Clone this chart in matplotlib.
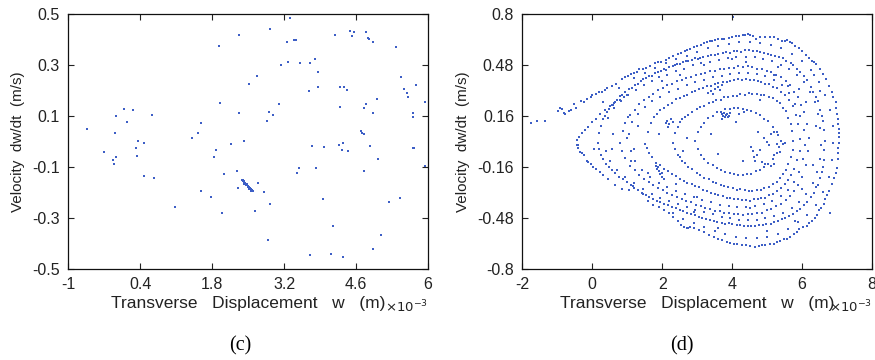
import numpy as np
import matplotlib
matplotlib.use("Agg")
import matplotlib.pyplot as plt

plt.rcParams["font.family"] = ["Liberation Sans", "DejaVu Sans"]

# panel (c): sampled states, w in units of 1e-3 m, dw/dt in m/s
c_points = [
    (-0.64, 0.048), (-0.31, -0.043), (-0.13, -0.074), (-0.11, -0.087), (-0.09, 0.033),
    (-0.07, 0.100), (-0.07, -0.059), (0.09, 0.129), (0.15, 0.077), (0.27, 0.125),
    (0.31, -0.027), (0.33, -0.056), (0.36, 0.001), (0.47, -0.007), (0.48, -0.137),
    (0.63, 0.102), (0.66, -0.145), (1.07, -0.258), (1.41, 0.014), (1.52, 0.033),
    (1.59, 0.074), (1.59, -0.193), (1.77, -0.217), (1.84, -0.059), (1.88, -0.033),
    (1.93, 0.375), (1.96, 0.151), (2.00, -0.282), (2.03, -0.128), (2.17, -0.010),
    (2.29, -0.117), (2.31, -0.184), (2.32, 0.418), (2.32, 0.110), (2.43, 0.003),
    (2.51, 0.227), (2.63, -0.274), (2.68, 0.258), (2.69, -0.164), (2.81, -0.200),
    (2.87, 0.081), (2.89, -0.385), (2.91, 0.116), (2.92, -0.247), (2.93, 0.441),
    (2.98, 0.103), (3.11, 0.149), (3.14, 0.302), (3.25, 0.390), (3.28, 0.313),
    (3.32, 0.483), (3.39, 0.399), (3.43, 0.399), (3.45, -0.124), (3.49, -0.103),
    (3.51, 0.309), (3.69, 0.198), (3.71, 0.307), (3.71, -0.446), (3.75, -0.016),
    (3.80, 0.325), (3.82, -0.106), (3.86, 0.272), (3.87, 0.214), (3.95, -0.227),
    (3.98, -0.023), (4.16, -0.333), (4.11, -0.440), (4.20, 0.419), (4.27, -0.012),
    (4.28, 0.137), (4.28, 0.214), (4.32, -0.034), (4.35, -0.007), (4.35, -0.454),
    (4.37, 0.215), (4.43, 0.201), (4.44, -0.037), (4.48, 0.435), (4.52, 0.414),
    (4.57, 0.430), (4.70, 0.040), (4.71, 0.033), (4.76, 0.030), (4.76, -0.114),
    (4.76, 0.133), (4.80, 0.146), (4.80, 0.428), (4.83, 0.406), (4.85, 0.402),
    (4.88, -0.017), (4.93, 0.390), (4.94, 0.111), (4.94, -0.420), (5.00, 0.167),
    (5.02, -0.068), (5.09, -0.366), (5.24, -0.236), (5.37, 0.371), (5.46, -0.221),
    (5.47, 0.253), (5.53, 0.204), (5.59, 0.191), (5.62, 0.176), (5.71, -0.027),
    (5.73, -0.027), (5.71, 0.112), (5.72, 0.095), (5.76, 0.223), (5.94, 0.155),
    (5.94, -0.098),
]
c_cluster = [
    (2.39, -0.150), (2.40, -0.153), (2.41, -0.151), (2.42, -0.157), (2.43, -0.158),
    (2.44, -0.161), (2.45, -0.163), (2.46, -0.167), (2.47, -0.166), (2.48, -0.171),
    (2.49, -0.173), (2.50, -0.176), (2.51, -0.178), (2.52, -0.181), (2.53, -0.183),
    (2.54, -0.186), (2.55, -0.188), (2.56, -0.190), (2.57, -0.192), (2.58, -0.194),
    (2.60, -0.196), (2.40, -0.157), (2.43, -0.165), (2.46, -0.172), (2.49, -0.180),
    (2.52, -0.186), (2.55, -0.193),
]
c_xticks = [-1, 0.4, 1.8, 3.2, 4.6, 6]
c_xlabels = ["-1", "0.4", "1.8", "3.2", "4.6", "6"]
c_yticks = [-0.5, -0.3, -0.1, 0.1, 0.3, 0.5]
c_ylabels = ["-0.5", "-0.3", "-0.1", "0.1", "0.3", "0.5"]

# panel (d): long run, several nested loops
d_tail = [
    (-1.74, 0.115), (-1.58, 0.130), (-1.36, 0.128), (-0.99, 0.194), (-0.93, 0.212),
    (-0.87, 0.205), (-0.80, 0.181), (-0.77, 0.170), (-0.68, 0.194), (-0.60, 0.200),
    (-0.51, 0.236), (-0.47, 0.212), (-0.31, 0.252), (-0.25, 0.247), (-0.16, 0.268),
    (-0.05, 0.281), (0.00, 0.294), (0.10, 0.301), (0.18, 0.309), (0.29, 0.312),
    (0.37, 0.324), (0.43, 0.333), (0.55, 0.346), (0.68, 0.362), (0.75, 0.338),
    (0.85, 0.391), (0.93, 0.402),
]
d_loop1 = [
    (1.02, 0.412), (1.10, 0.421), (1.19, 0.433), (1.28, 0.436), (1.35, 0.452),
    (1.44, 0.458), (1.53, 0.462), (1.64, 0.476), (1.80, 0.490), (1.89, 0.497),
    (1.97, 0.502), (2.10, 0.514), (2.19, 0.521), (2.31, 0.536), (2.45, 0.548),
    (2.54, 0.556), (2.64, 0.566), (2.72, 0.572), (2.80, 0.583), (2.91, 0.590),
    (3.00, 0.601), (3.10, 0.604), (3.21, 0.616), (3.28, 0.623), (3.36, 0.631),
    (3.43, 0.633), (3.52, 0.638), (3.61, 0.644), (3.70, 0.646), (3.78, 0.644),
    (3.90, 0.650), (4.01, 0.656), (4.10, 0.660), (4.21, 0.664), (4.31, 0.671),
    (4.38, 0.668), (4.45, 0.676), (4.52, 0.671), (4.60, 0.664), (4.67, 0.644),
    (4.80, 0.659), (4.95, 0.654), (5.09, 0.655), (5.19, 0.653), (5.30, 0.645),
    (5.43, 0.633), (5.50, 0.628), (5.58, 0.634), (5.65, 0.624), (5.72, 0.617),
    (5.80, 0.601), (5.90, 0.584), (6.00, 0.566), (6.10, 0.544), (6.19, 0.521),
    (6.29, 0.506), (6.34, 0.498), (6.41, 0.487), (6.50, 0.454), (6.60, 0.421),
    (6.68, 0.391), (6.77, 0.350), (6.85, 0.312), (6.90, 0.281), (6.96, 0.247),
    (6.98, 0.212), (7.01, 0.174), (7.03, 0.141), (7.04, 0.111), (7.06, 0.080),
    (7.05, 0.052), (7.06, 0.027), (7.05, -0.010), (7.04, -0.041), (7.04, -0.072),
    (7.03, -0.110), (7.01, -0.168), (6.96, -0.201), (6.91, -0.231), (6.86, -0.268),
    (6.77, -0.311), (6.72, -0.338), (6.67, -0.362), (6.62, -0.392), (6.55, -0.418),
    (6.48, -0.432), (6.43, -0.462), (6.36, -0.478), (6.29, -0.502), (6.20, -0.514),
    (6.14, -0.531), (6.02, -0.538), (5.91, -0.551), (5.85, -0.566), (5.76, -0.582),
    (5.66, -0.598), (5.57, -0.611), (5.48, -0.614), (5.38, -0.622), (5.28, -0.632),
    (5.19, -0.641), (5.08, -0.644), (4.95, -0.651), (4.85, -0.648), (4.76, -0.656),
    (4.65, -0.660), (4.52, -0.654), (4.40, -0.651), (4.28, -0.648), (4.15, -0.644),
    (4.05, -0.641), (3.95, -0.636), (3.85, -0.630), (3.72, -0.621), (3.60, -0.611),
    (3.48, -0.602), (3.35, -0.588), (3.20, -0.571), (3.05, -0.556), (2.92, -0.546),
    (2.80, -0.538), (2.75, -0.546), (2.70, -0.541), (2.62, -0.534), (2.55, -0.527),
    (2.45, -0.502), (2.32, -0.472), (2.20, -0.452), (2.05, -0.431), (1.90, -0.412),
    (1.74, -0.398), (1.60, -0.372), (1.45, -0.331), (1.30, -0.302), (1.17, -0.281),
    (1.04, -0.307), (0.85, -0.297), (0.65, -0.276), (0.46, -0.234), (0.30, -0.208),
    (0.22, -0.190), (0.10, -0.171), (0.03, -0.160), (-0.05, -0.141), (-0.11, -0.130),
    (-0.15, -0.120), (-0.25, -0.088), (-0.30, -0.075), (-0.35, -0.067), (-0.40, -0.025),
    (-0.42, -0.041), (-0.45, -0.020), (-0.43, 0.010), (-0.38, 0.031), (-0.30, 0.052),
    (-0.22, 0.071), (-0.12, 0.093), (-0.02, 0.121), (0.10, 0.142), (0.22, 0.171),
    (0.35, 0.198), (0.50, 0.221), (0.62, 0.243), (0.79, 0.262), (0.90, 0.281),
    (0.98, 0.292),
]
d_loop1b = [
    (1.20, 0.400), (1.50, 0.432), (1.80, 0.462), (2.10, 0.490), (2.40, 0.515),
    (2.70, 0.538), (3.00, 0.562), (3.30, 0.588), (3.60, 0.602), (3.90, 0.612),
    (4.20, 0.622), (4.50, 0.625), (4.80, 0.618), (5.10, 0.605), (5.40, 0.584),
    (5.70, 0.552), (6.00, 0.505), (6.25, 0.448), (6.48, 0.372), (6.66, 0.292),
    (6.80, 0.198), (6.88, 0.098), (6.90, -0.008), (6.86, -0.118), (6.76, -0.222),
    (6.60, -0.318), (6.40, -0.398), (6.15, -0.462), (5.88, -0.508), (5.60, -0.548),
    (5.30, -0.578), (5.00, -0.598), (4.70, -0.606), (4.40, -0.604), (4.10, -0.598),
    (3.80, -0.582), (3.50, -0.562), (3.20, -0.538), (2.90, -0.512), (2.60, -0.488),
    (2.30, -0.452),
]
d_loop2 = [
    (0.15, -0.012), (0.20, 0.052), (0.25, 0.098), (0.31, 0.142), (0.36, 0.158),
    (0.42, 0.183), (0.48, 0.201), (0.55, 0.226), (0.60, 0.229), (0.64, 0.247),
    (0.72, 0.262), (0.80, 0.284), (0.86, 0.292), (0.95, 0.308), (1.05, 0.327),
    (1.13, 0.338), (1.22, 0.356), (1.30, 0.358), (1.38, 0.381), (1.45, 0.392),
    (1.55, 0.398), (1.63, 0.412), (1.70, 0.414), (1.78, 0.427), (1.88, 0.434),
    (1.97, 0.441), (2.05, 0.456), (2.10, 0.448), (2.20, 0.466), (2.30, 0.474),
    (2.38, 0.482), (2.43, 0.486), (2.52, 0.489), (2.60, 0.502), (2.68, 0.504),
    (2.75, 0.507), (2.85, 0.514), (2.95, 0.521), (3.02, 0.518), (3.08, 0.527),
    (3.18, 0.531), (3.30, 0.534), (3.40, 0.541), (3.50, 0.546), (3.60, 0.549),
    (3.73, 0.556), (3.82, 0.561), (3.95, 0.558), (4.05, 0.566), (4.15, 0.571),
    (4.26, 0.564), (4.38, 0.572), (4.48, 0.576), (4.60, 0.569), (4.70, 0.566),
    (4.80, 0.561), (4.92, 0.554), (5.03, 0.551), (5.12, 0.543), (5.22, 0.537),
    (5.35, 0.528), (5.45, 0.521), (5.55, 0.503), (5.68, 0.491), (5.75, 0.478),
    (5.87, 0.456), (5.95, 0.438), (6.07, 0.412), (6.15, 0.388), (6.26, 0.341),
    (6.32, 0.312), (6.39, 0.279), (6.45, 0.252), (6.52, 0.198), (6.56, 0.162),
    (6.59, 0.128), (6.62, 0.071), (6.65, 0.002), (6.64, -0.052), (6.62, -0.118),
    (6.60, -0.162), (6.57, -0.191), (6.52, -0.228), (6.45, -0.271), (6.40, -0.288),
    (6.33, -0.322), (6.25, -0.348), (6.14, -0.381), (6.05, -0.398), (5.95, -0.421),
    (5.85, -0.438), (5.75, -0.456), (5.62, -0.468), (5.52, -0.482), (5.43, -0.489),
    (5.30, -0.502), (5.20, -0.508), (5.10, -0.516), (4.98, -0.518), (4.88, -0.522),
    (4.78, -0.526), (4.65, -0.531), (4.55, -0.528), (4.45, -0.532), (4.33, -0.529),
    (4.22, -0.526), (4.13, -0.524), (4.00, -0.521), (3.90, -0.514), (3.80, -0.516),
    (3.70, -0.509), (3.58, -0.504), (3.48, -0.498), (3.37, -0.491), (3.25, -0.484),
    (3.15, -0.478), (3.05, -0.472), (2.93, -0.461), (2.83, -0.454), (2.72, -0.446),
    (2.60, -0.438), (2.50, -0.431), (2.40, -0.418), (2.28, -0.411), (2.18, -0.398),
    (2.05, -0.391), (1.95, -0.378), (1.85, -0.371), (1.75, -0.358), (1.63, -0.351),
    (1.53, -0.334), (1.42, -0.321), (1.30, -0.304), (1.20, -0.291), (1.10, -0.274),
    (0.98, -0.256), (0.88, -0.238), (0.76, -0.221), (0.64, -0.198), (0.55, -0.182),
    (0.48, -0.163), (0.40, -0.141), (0.31, -0.108), (0.25, -0.082), (0.20, -0.048),
]
d_loop2b = [
    (0.45, 0.150), (0.62, 0.210), (0.83, 0.255), (1.02, 0.292), (1.25, 0.322),
    (1.48, 0.352), (1.70, 0.378), (1.92, 0.402), (2.15, 0.418), (2.40, 0.445),
    (2.62, 0.458), (2.88, 0.478), (3.12, 0.492), (3.38, 0.502), (3.62, 0.512),
    (3.88, 0.521), (4.12, 0.532), (4.40, 0.528), (4.65, 0.532), (4.88, 0.518),
    (5.15, 0.508), (5.40, 0.482), (5.62, 0.458), (5.85, 0.418), (6.05, 0.372),
    (6.22, 0.312), (6.36, 0.248), (6.46, 0.172), (6.52, 0.085), (6.54, -0.020),
    (6.50, -0.110), (6.42, -0.192), (6.30, -0.262), (6.12, -0.332), (5.92, -0.382),
    (5.70, -0.418), (5.45, -0.448), (5.20, -0.468), (4.95, -0.482), (4.70, -0.490),
    (4.45, -0.494), (4.20, -0.491), (3.95, -0.482), (3.70, -0.472), (3.45, -0.458),
    (3.20, -0.442), (2.95, -0.428), (2.70, -0.412), (2.45, -0.392), (2.20, -0.372),
    (1.95, -0.352), (1.70, -0.328), (1.45, -0.298), (1.20, -0.262), (0.95, -0.222),
    (0.72, -0.178), (0.52, -0.122), (0.40, -0.060),
]
d_loop3 = [
    (0.80, -0.008), (0.88, 0.068), (0.94, 0.118), (1.02, 0.152), (1.07, 0.166),
    (1.21, 0.198), (1.34, 0.236), (1.48, 0.258), (1.61, 0.282), (1.75, 0.298),
    (1.88, 0.322), (2.02, 0.333), (2.15, 0.352), (2.29, 0.363), (2.42, 0.377),
    (2.56, 0.384), (2.69, 0.397), (2.83, 0.404), (2.96, 0.418), (3.10, 0.426),
    (3.23, 0.428), (3.37, 0.441), (3.50, 0.444), (3.64, 0.452), (3.77, 0.454),
    (3.91, 0.461), (4.04, 0.463), (4.18, 0.471), (4.31, 0.468), (4.45, 0.472),
    (4.58, 0.466), (4.72, 0.458), (4.85, 0.456), (4.99, 0.443), (5.12, 0.436),
    (5.26, 0.418), (5.39, 0.406), (5.53, 0.378), (5.66, 0.352), (5.77, 0.313),
    (5.88, 0.282), (5.98, 0.228), (6.07, 0.182), (6.15, 0.108), (6.20, 0.021),
    (6.18, -0.061), (6.11, -0.148), (6.00, -0.221), (5.88, -0.272), (5.77, -0.308),
    (5.66, -0.342), (5.53, -0.368), (5.39, -0.392), (5.26, -0.408), (5.12, -0.426),
    (4.99, -0.433), (4.85, -0.446), (4.72, -0.448), (4.58, -0.456), (4.45, -0.458),
    (4.31, -0.462), (4.18, -0.453), (4.04, -0.456), (3.91, -0.448), (3.77, -0.446),
    (3.64, -0.438), (3.50, -0.436), (3.37, -0.423), (3.23, -0.417), (3.10, -0.403),
    (2.96, -0.397), (2.83, -0.383), (2.69, -0.372), (2.56, -0.358), (2.42, -0.347),
    (2.29, -0.333), (2.15, -0.322), (2.02, -0.303), (1.88, -0.292), (1.75, -0.273),
    (1.61, -0.257), (1.48, -0.233), (1.34, -0.212), (1.21, -0.178), (1.07, -0.152),
    (0.94, -0.103), (0.85, -0.062),
]
d_loop3b = [
    (1.05, 0.050), (1.15, 0.120), (1.30, 0.172), (1.50, 0.215), (1.72, 0.252),
    (1.95, 0.282), (2.20, 0.308), (2.45, 0.332), (2.70, 0.352), (2.95, 0.372),
    (3.20, 0.388), (3.45, 0.402), (3.70, 0.412), (3.95, 0.422), (4.20, 0.428),
    (4.45, 0.432), (4.70, 0.422), (4.95, 0.408), (5.20, 0.385), (5.42, 0.352),
    (5.62, 0.302), (5.80, 0.238), (5.95, 0.162), (6.05, 0.072), (6.08, -0.020),
    (6.02, -0.112), (5.92, -0.192), (5.78, -0.252), (5.60, -0.302), (5.40, -0.342),
    (5.15, -0.372), (4.90, -0.392), (4.65, -0.408), (4.40, -0.414), (4.15, -0.412),
    (3.90, -0.405), (3.65, -0.396), (3.40, -0.382), (3.15, -0.365), (2.90, -0.348),
    (2.65, -0.328), (2.40, -0.308), (2.15, -0.285), (1.90, -0.258), (1.65, -0.222),
    (1.42, -0.178), (1.22, -0.122), (1.10, -0.060),
]
d_loop4 = [
    (1.50, -0.018), (1.59, 0.062), (1.68, 0.118), (1.77, 0.152), (1.86, 0.173),
    (1.95, 0.196), (2.06, 0.208), (2.17, 0.232), (2.28, 0.243), (2.39, 0.266),
    (2.50, 0.273), (2.61, 0.287), (2.72, 0.293), (2.84, 0.312), (2.95, 0.318),
    (3.06, 0.327), (3.17, 0.333), (3.28, 0.347), (3.39, 0.348), (3.50, 0.362),
    (3.61, 0.364), (3.73, 0.372), (3.84, 0.373), (3.95, 0.382), (4.06, 0.386),
    (4.17, 0.392), (4.28, 0.388), (4.39, 0.392), (4.50, 0.384), (4.62, 0.387),
    (4.73, 0.378), (4.84, 0.376), (4.95, 0.363), (5.06, 0.362), (5.17, 0.343),
    (5.28, 0.337), (5.39, 0.313), (5.51, 0.292), (5.62, 0.258), (5.73, 0.222),
    (5.82, 0.168), (5.89, 0.112), (5.95, 0.018), (5.93, -0.062), (5.86, -0.118),
    (5.77, -0.172), (5.68, -0.208), (5.59, -0.242), (5.51, -0.268), (5.39, -0.292),
    (5.28, -0.308), (5.17, -0.332), (5.06, -0.338), (4.95, -0.352), (4.84, -0.353),
    (4.73, -0.362), (4.62, -0.363), (4.50, -0.372), (4.39, -0.368), (4.28, -0.366),
    (4.17, -0.363), (4.06, -0.362), (3.95, -0.353), (3.84, -0.352), (3.73, -0.343),
    (3.61, -0.337), (3.50, -0.328), (3.39, -0.322), (3.28, -0.308), (3.17, -0.302),
    (3.06, -0.288), (2.95, -0.282), (2.84, -0.268), (2.72, -0.262), (2.61, -0.248),
    (2.50, -0.237), (2.39, -0.218), (2.28, -0.207), (2.17, -0.188), (2.06, -0.172),
    (1.95, -0.148), (1.83, -0.132), (1.72, -0.098), (1.63, -0.072), (1.57, -0.038),
]
d_loop5 = [
    (2.30, -0.012), (2.37, 0.052), (2.44, 0.088), (2.51, 0.122), (2.58, 0.138),
    (2.65, 0.152), (2.75, 0.168), (2.85, 0.187), (2.99, 0.203), (3.09, 0.217),
    (3.20, 0.223), (3.34, 0.242), (3.44, 0.248), (3.54, 0.262), (3.68, 0.263),
    (3.78, 0.277), (3.89, 0.278), (4.03, 0.287), (4.13, 0.288), (4.23, 0.296),
    (4.37, 0.294), (4.47, 0.302), (4.58, 0.298), (4.72, 0.298), (4.82, 0.293),
    (4.92, 0.291), (5.06, 0.278), (5.16, 0.272), (5.27, 0.253), (5.37, 0.242),
    (5.47, 0.213), (5.54, 0.192), (5.61, 0.148), (5.68, 0.112), (5.72, 0.068),
    (5.75, 0.002), (5.73, -0.052), (5.68, -0.098), (5.61, -0.142), (5.54, -0.178),
    (5.47, -0.202), (5.37, -0.228), (5.27, -0.252), (5.16, -0.268), (5.06, -0.287),
    (4.92, -0.293), (4.82, -0.302), (4.72, -0.303), (4.58, -0.312), (4.47, -0.308),
    (4.37, -0.306), (4.23, -0.298), (4.13, -0.302), (4.03, -0.293), (3.89, -0.287),
    (3.78, -0.278), (3.68, -0.272), (3.54, -0.258), (3.44, -0.252), (3.34, -0.238),
    (3.20, -0.227), (3.09, -0.208), (2.99, -0.197), (2.85, -0.173), (2.75, -0.162),
    (2.65, -0.138), (2.58, -0.122), (2.51, -0.098), (2.44, -0.082), (2.37, -0.048),
]
d_loop6 = [
    (2.95, 0.002), (3.02, 0.058), (3.10, 0.092), (3.20, 0.118), (3.32, 0.147),
    (3.44, 0.163), (3.56, 0.182), (3.69, 0.188), (3.81, 0.202), (3.93, 0.203),
    (4.05, 0.212), (4.18, 0.208), (4.30, 0.207), (4.42, 0.198), (4.54, 0.192),
    (4.67, 0.178), (4.79, 0.167), (4.91, 0.143), (5.03, 0.127), (5.16, 0.093),
    (5.28, 0.062), (5.40, 0.002), (5.28, -0.072), (5.16, -0.108), (5.03, -0.142),
    (4.91, -0.158), (4.79, -0.177), (4.67, -0.188), (4.54, -0.202), (4.42, -0.203),
    (4.30, -0.212), (4.18, -0.208), (4.05, -0.207), (3.93, -0.198), (3.81, -0.192),
    (3.69, -0.178), (3.56, -0.167), (3.44, -0.148), (3.32, -0.132), (3.20, -0.108),
    (3.10, -0.082), (3.02, -0.048),
]
d_extra = [
    (4.62, -0.098), (4.66, -0.121), (4.86, -0.131), (4.95, -0.142), (5.10, -0.151),
    (5.19, -0.139), (5.00, -0.004), (5.05, -0.025), (5.29, -0.015), (5.34, -0.035),
    (5.38, -0.067), (4.55, -0.032), (4.60, -0.061), (4.80, -0.052), (4.90, 0.021),
    (5.10, 0.048), (5.20, 0.061), (5.30, 0.041), (4.75, 0.058), (5.45, -0.018),
    (5.50, -0.008), (4.70, -0.083), (5.20, -0.082), (4.02, 0.780),
    (3.72, 0.172), (3.75, 0.158), (3.78, 0.176), (3.80, 0.151), (3.83, 0.166),
    (3.85, 0.171), (3.87, 0.154), (3.90, 0.162), (3.70, 0.142), (3.95, 0.181),
    (4.20, 0.172), (4.35, 0.185),
    (2.10, 0.118), (2.15, 0.131), (2.20, 0.108), (2.25, 0.142), (2.30, 0.122),
    (2.18, 0.092),
    (1.82, -0.152), (1.86, -0.171), (1.90, -0.188), (1.95, -0.205), (2.00, -0.222),
    (2.05, -0.238), (1.88, -0.162), (1.98, -0.198),
    (3.30, 0.302), (3.40, 0.318), (3.50, 0.331), (3.60, 0.342), (3.70, 0.352),
    (3.45, 0.296), (3.65, 0.322),
    (0.60, 0.050), (0.55, -0.050), (1.00, 0.020), (1.20, -0.050), (1.90, 0.050),
    (2.50, 0.420), (2.00, 0.380), (3.20, 0.480), (4.00, 0.520), (5.30, 0.470),
    (5.90, 0.330), (6.40, 0.100), (6.30, -0.150), (6.00, -0.300), (5.00, -0.560),
    (3.60, -0.540), (3.00, -0.350), (2.40, -0.270), (3.40, 0.050), (3.60, -0.080),
    (4.10, 0.120), (4.30, -0.120), (5.60, 0.350), (6.10, 0.250), (1.30, 0.100),
    (1.10, -0.120), (2.70, 0.020), (2.60, -0.060), (4.80, 0.260), (5.20, 0.420),
    (4.50, -0.420), (5.80, -0.500), (6.80, -0.450), (6.50, 0.320), (6.35, 0.420),
    (0.30, 0.250), (0.05, -0.050), (1.60, -0.200), (2.90, -0.440), (4.40, 0.500),
]
d_xticks = [-2, 0, 2, 4, 6, 8]
d_yticks = [-0.8, -0.48, -0.16, 0.16, 0.48, 0.8]
d_ylabels = ["-0.8", "-0.48", "-0.16", "0.16", "0.48", "0.8"]

dot_color = "#3d5fc6"


def style_axes(ax):
    ax.tick_params(direction="in", length=4, width=0.8, top=True, right=True,
                   labelsize=11.5, pad=6, colors="#222222")
    for s in ax.spines.values():
        s.set_linewidth(0.9)
        s.set_color("#111111")
    ax.set_ylabel("Velocity  dw/dt  (m/s)", fontsize=11, color="#222222",
                  labelpad=5)
    ax.set_xlabel("Transverse   Displacement   w   (m)", fontsize=12.5,
                  color="#222222", labelpad=3)
    ax.text(1.0, -0.172, r"$\times10^{-3}$", transform=ax.transAxes,
            ha="right", va="baseline", fontsize=9.5, color="#222222")


fig = plt.figure(figsize=(8.75, 3.6), dpi=100)
ax_c = fig.add_axes([0.078, 0.253, 0.411, 0.708])
ax_d = fig.add_axes([0.597, 0.253, 0.3995, 0.708])

pc = np.array(c_points + c_cluster)
ax_c.scatter(pc[:, 0], pc[:, 1], s=3.2, marker="s", color=dot_color, linewidths=0)
ax_c.set_xlim(-1, 6)
ax_c.set_ylim(-0.5, 0.5)
ax_c.set_xticks(c_xticks, c_xlabels)
ax_c.set_yticks(c_yticks, c_ylabels)
style_axes(ax_c)

pd_ = np.array(d_tail + d_loop1 + d_loop1b + d_loop2 + d_loop2b + d_loop3
               + d_loop3b + d_loop4 + d_loop5 + d_loop6 + d_extra)
ax_d.scatter(pd_[:, 0], pd_[:, 1], s=3.5, marker="s", color=dot_color, linewidths=0)
ax_d.set_xlim(-2, 8)
ax_d.set_ylim(-0.8, 0.8)
ax_d.set_xticks(d_xticks, [str(v) for v in d_xticks])
ax_d.set_yticks(d_yticks, d_ylabels)
style_axes(ax_d)

fig.text(0.274, 0.040, "(c)", ha="center", va="center", fontsize=14.5,
         family="Liberation Serif")
fig.text(0.779, 0.040, "(d)", ha="center", va="center", fontsize=14.5,
         family="Liberation Serif")

fig.savefig("out.png", dpi=100, facecolor="white")
